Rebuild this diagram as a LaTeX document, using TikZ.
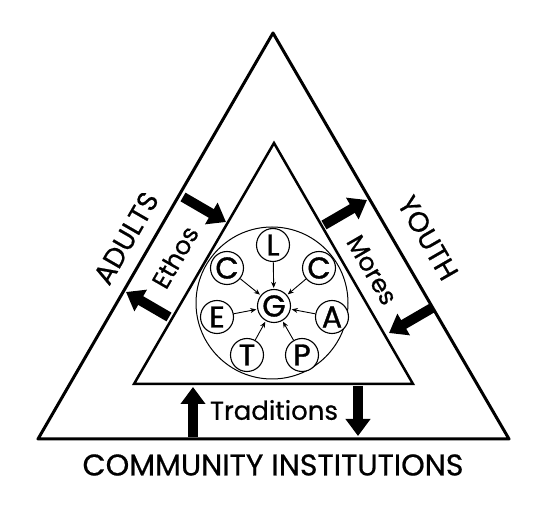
\documentclass[tikz,border=0pt]{standalone}
\usepackage{fontspec}
\setmainfont{Poppins}[FakeBold=0.6]
\newfontfamily\letterfont{Poppins}[FakeBold=1.2]
\usetikzlibrary{arrows.meta}

\begin{document}
\begin{tikzpicture}[
  x=1pt, y=-1pt,
  font=\fontsize{28}{30}\selectfont,
  outer side/.style={line width=3pt, line join=round},
  inner side/.style={line width=2.5pt, line join=miter},
  ring/.style={draw, line width=1pt},
  letter/.style={
    circle,
    draw,
    fill=white,
    line width=1.1pt,
    minimum size=33pt,
    inner sep=0pt,
    font=\letterfont\fontsize{30}{30}\selectfont
  },
  flow/.style={
    line width=10pt,
    -{Triangle[length=17pt,width=24pt]}
  },
  pull/.style={
    -{Stealth[length=6pt,width=5pt]},
    line width=0.9pt,
    shorten >=1pt
  },
  side label/.style={inner sep=0pt}
]
\useasboundingbox (0,0) rectangle (547,505);

% Outer and inner triangles
\coordinate (outerTop) at (273,33);
\coordinate (outerLeft) at (38,439);
\coordinate (outerRight) at (509,439);
\coordinate (innerTop) at (274,143);
\coordinate (innerLeft) at (134,384);
\coordinate (innerRight) at (413,384);

\draw[outer side] (outerTop) -- (outerRight) -- (outerLeft) -- cycle;
\draw[inner side] (innerTop) -- (innerRight) -- (innerLeft) -- cycle;

% Side labels
\node[side label, rotate=60] (adults) at (126,238) {ADULTS};
\node[side label, rotate=60, font=\fontsize{25}{28}\selectfont] (ethos) at (175,257) {Ethos};
\node[side label, rotate=-60] (youth) at (428,238) {YOUTH};
\node[side label, rotate=-60, font=\fontsize{25}{28}\selectfont] (mores) at (372,270) {Mores};
\node[side label, font=\fontsize{26}{28}\selectfont] (traditions) at (274,410) {Traditions};
\node[side label, font=\fontsize{30}{32}\selectfont] (community) at (273,465) {COMMUNITY INSTITUTIONS};

% Exchange arrows between the two triangles
\coordinate (ethosInTail) at (183,197);
\coordinate (ethosInTip) at (226,222);
\coordinate (ethosOutTail) at (169,317);
\coordinate (ethosOutTip) at (126,292);
\coordinate (moresOutTail) at (324,225);
\coordinate (moresOutTip) at (367,200);
\coordinate (moresInTail) at (432,308);
\coordinate (moresInTip) at (389,333);
\coordinate (tradUpTail) at (193,437);
\coordinate (tradUpTip) at (193,387);
\coordinate (tradDownTail) at (358,386);
\coordinate (tradDownTip) at (358,436);

\draw[flow] (ethosInTail) -- (ethosInTip);
\draw[flow] (ethosOutTail) -- (ethosOutTip);
\draw[flow] (moresOutTail) -- (moresOutTip);
\draw[flow] (moresInTail) -- (moresInTip);
\draw[flow] (tradUpTail) -- (tradUpTip);
\draw[flow] (tradDownTail) -- (tradDownTip);

% Circle of letters around G
\coordinate (ringCentre) at (272,303);
\draw[ring] (ringCentre) circle[radius=76];
\node[letter] (hub) at (274,306) {G};
\node[letter] (cL) at (273,245) {L};
\node[letter] (cC1) at (227,268) {C};
\node[letter] (cC2) at (319,268) {C};
\node[letter] (cE) at (217,317) {E};
\node[letter] (cA) at (332,317) {A};
\node[letter] (cT) at (247,355) {T};
\node[letter] (cP) at (302,355) {P};

\foreach \src in {cL,cC1,cC2,cE,cA,cT,cP}
  \draw[pull] (\src) -- (hub);

\end{tikzpicture}
\end{document}
